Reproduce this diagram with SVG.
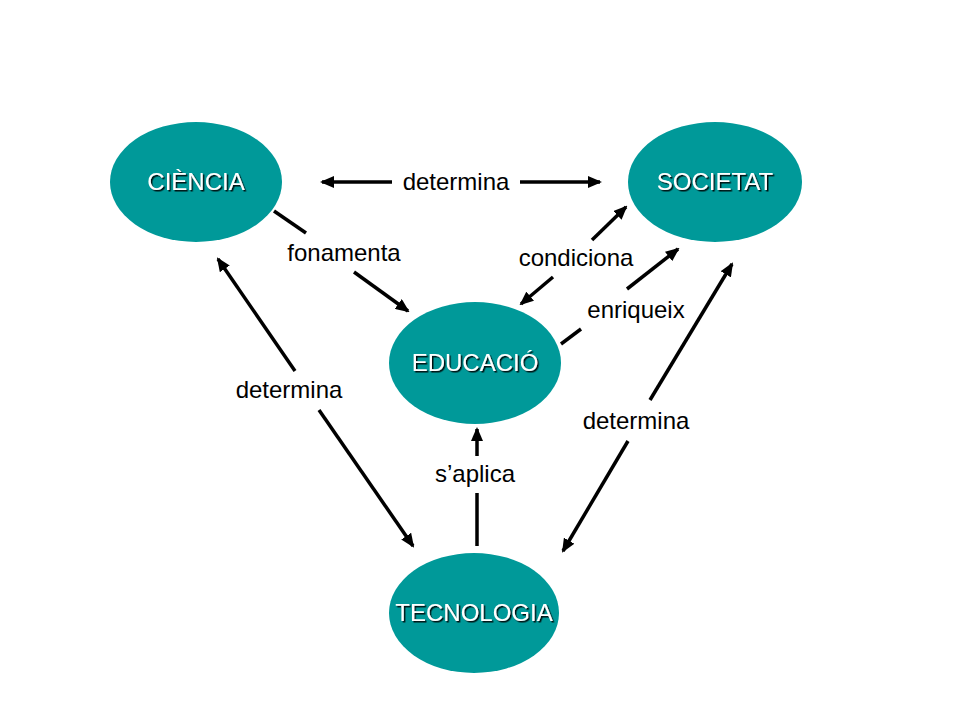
<svg xmlns="http://www.w3.org/2000/svg" width="960" height="720" viewBox="0 0 960 720">
<style>
.node{fill:#009999;}
.nt{font-family:"Liberation Sans",Arial,sans-serif;font-size:24px;fill:#ffffff;text-anchor:middle;filter:url(#sh);}
.lbl{font-family:"Liberation Sans",Arial,sans-serif;font-size:24px;fill:#000000;text-anchor:middle;}
.c{stroke:#000000;stroke-width:3.5;fill:none;}
.a{marker-end:url(#ah);}
.s{marker-start:url(#ah);}
</style>
<defs>
<marker id="ah" viewBox="0 0 14 12" refX="12" refY="6" markerWidth="14" markerHeight="12" markerUnits="userSpaceOnUse" orient="auto-start-reverse">
<path d="M0,0 L14,6 L0,12 z" fill="#000000"/>
</marker>
<filter id="sh" x="-10%" y="-20%" width="130%" height="150%">
<feDropShadow dx="1.5" dy="1.5" stdDeviation="0.3" flood-color="#000000" flood-opacity="0.9"/>
</filter>
</defs>
<rect width="960" height="720" fill="#ffffff"/>
<g id="connectors">
<line class="c s" x1="322" y1="182" x2="392" y2="182"/>
<line class="c a" x1="520" y1="182" x2="600" y2="182"/>
<text class="lbl" x="456" y="190">determina</text>
<line class="c" x1="274" y1="211" x2="306" y2="233"/>
<line class="c a" x1="354" y1="272" x2="408" y2="311"/>
<text class="lbl" x="344" y="261">fonamenta</text>
<line class="c s" x1="521" y1="304" x2="553" y2="277"/>
<line class="c a" x1="592" y1="240" x2="626" y2="207"/>
<text class="lbl" x="576" y="266">condiciona</text>
<line class="c" x1="561" y1="344" x2="581" y2="329"/>
<line class="c a" x1="627" y1="289" x2="678" y2="249"/>
<text class="lbl" x="636" y="318">enriqueix</text>
<line class="c s" x1="218" y1="259" x2="295" y2="371"/>
<line class="c a" x1="319" y1="410" x2="413" y2="546"/>
<text class="lbl" x="289" y="398">determina</text>
<line class="c s" x1="563" y1="551" x2="628" y2="441"/>
<line class="c a" x1="650" y1="400" x2="732" y2="264"/>
<text class="lbl" x="636" y="429">determina</text>
<line class="c" x1="477" y1="546" x2="477" y2="493"/>
<line class="c a" x1="477" y1="456" x2="477" y2="429"/>
<text class="lbl" x="475" y="482">s’aplica</text>
</g>
<g id="ciencia">
<ellipse class="node" cx="196" cy="182" rx="86" ry="60"/>
<text class="nt" x="196" y="190">CIÈNCIA</text>
</g>
<g id="societat">
<ellipse class="node" cx="715" cy="182" rx="87" ry="60"/>
<text class="nt" x="715" y="190">SOCIETAT</text>
</g>
<g id="educacio">
<ellipse class="node" cx="475" cy="363" rx="86" ry="61"/>
<text class="nt" x="475" y="371">EDUCACIÓ</text>
</g>
<g id="tecnologia">
<ellipse class="node" cx="474" cy="613" rx="85" ry="60"/>
<text class="nt" x="474" y="621">TECNOLOGIA</text>
</g>
</svg>
